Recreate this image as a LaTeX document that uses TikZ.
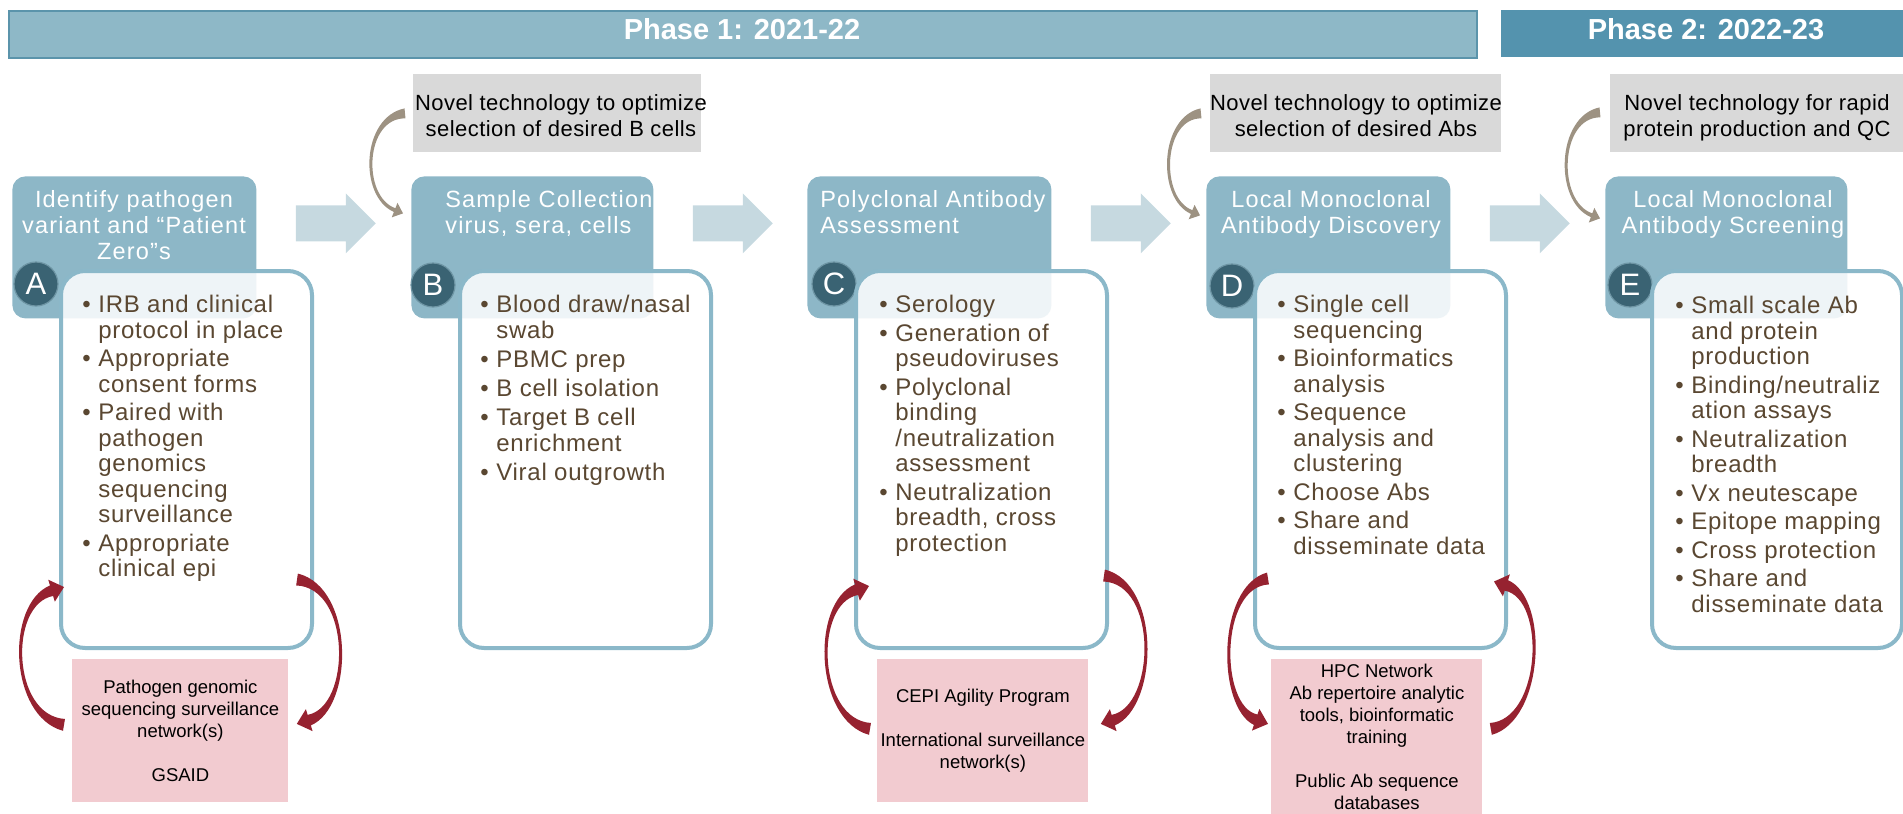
\documentclass[tikz,border=0pt]{standalone}
\usepackage{fontspec}
\setmainfont{Liberation Sans}
\newfontfamily\hdrfont[LetterSpace=5]{Liberation Sans}
\newfontfamily\bodyfont[LetterSpace=3]{Liberation Sans}
\newfontfamily\grayfont[LetterSpace=2]{Liberation Sans}
\usetikzlibrary{arrows.meta,calc}
\definecolor{hdrcol}{HTML}{8DB7C7}
\definecolor{bodyline}{HTML}{8BB8C9}
\definecolor{circcol}{HTML}{3A6373}
\definecolor{circline}{HTML}{6E95A4}
\definecolor{flowcol}{HTML}{C6D9E0}
\definecolor{grayboxcol}{HTML}{D9D9D9}
\definecolor{pinkcol}{HTML}{F2CBD0}
\definecolor{redarr}{HTML}{962230}
\definecolor{grayarr}{HTML}{9D9282}
\definecolor{bodytext}{HTML}{5A4731}
\definecolor{phaseone}{HTML}{8EB8C7}
\definecolor{phaseoneline}{HTML}{5B94AB}
\definecolor{phasetwo}{HTML}{5493AE}
\newcommand\bu{\makebox[8pt][l]{\textbullet}}
\newcommand\ind{\hspace*{8pt}}
\def\crhl{6pt}
\def\crhw{5.5pt}
% tapered curved arrow: #1 fill, #2 tail, #3 tail control offset, #4 head control offset (from tip), #5 tip,
% #6 tail half-width, #7 middle half-width, #8 head-end half-width
\newcommand\crarrow[8]{%
  \path #2 coordinate (cr-s);
  \path #5 coordinate (cr-t);
  \path ($(cr-s)+#3$) coordinate (cr-a);
  \path ($(cr-t)+#4$) coordinate (cr-b);
  \path ($(cr-t)!\crhl!(cr-b)$) coordinate (cr-e);
  \fill[#1] ($(cr-s)!#6!90:(cr-a)$) .. controls ($(cr-a)!#7!90:(cr-b)$) and ($(cr-b)!#7!-90:(cr-a)$) .. ($(cr-e)!#8!-90:(cr-b)$)
    -- ($(cr-e)!\crhw!-90:(cr-b)$) -- (cr-t) -- ($(cr-e)!\crhw!90:(cr-b)$) -- ($(cr-e)!#8!90:(cr-b)$)
    .. controls ($(cr-b)!#7!90:(cr-a)$) and ($(cr-a)!#7!-90:(cr-b)$) .. ($(cr-s)!#6!-90:(cr-a)$) -- cycle;
}
\tikzset{
  phasebar/.style={anchor=north west, inner sep=0, minimum height=23.5pt},
  phasetext/.style={text=white, font=\bfseries\fontsize{14.5}{16}\selectfont, inner sep=0},
  hdr/.style={fill=hdrcol, rounded corners=6.5pt, anchor=north west, inner sep=0, minimum width=122pt, minimum height=71pt},
  hdrtext/.style={text=white, font=\hdrfont\fontsize{11.75}{13}\selectfont, inner sep=0},
  bodybox/.style={draw=bodyline, line width=2pt, fill=white, fill opacity=0.86, rounded corners=12pt, anchor=north west, inner sep=0, minimum width=125.5pt, minimum height=188.5pt},
  bodytxt/.style={text=bodytext, font=\bodyfont\fontsize{12}{12.75}\selectfont, align=left, inner sep=0, anchor=north west},
  circ/.style={circle, fill=circcol, draw=circline, line width=0.6pt, minimum size=22pt, inner sep=0, text=white, font=\fontsize{15.5}{16}\selectfont},
  graybox/.style={fill=grayboxcol, anchor=north west, inner sep=0, minimum height=39pt},
  graytext/.style={font=\grayfont\fontsize{11}{13}\selectfont, align=center, inner sep=0, anchor=north},
  pinkbox/.style={fill=pinkcol, anchor=north west, inner sep=0, align=center, font=\fontsize{9.25}{11}\selectfont},
}
\begin{document}
\begin{tikzpicture}[x=0.5pt,y=-0.5pt]
\useasboundingbox (0,0) rectangle (1903,814);
% phase bars
\node[phasebar, fill=phaseone, draw=phaseoneline, line width=1pt, minimum width=734pt] (ph1) at (8,10) {};
\node[phasetext] (ph1t) at (742,29) {Phase 1: 2021-22};
\node[phasebar, fill=phasetwo, minimum width=201pt] (ph2) at (1501,10) {};
\node[phasetext] (ph2t) at (1706,29) {Phase 2: 2022-23};

% gray boxes
\node[graybox, minimum width=144pt] (gB) at (413,74) {};
\node[graybox, minimum width=145.5pt] (gD) at (1210,74) {};
\node[graybox, minimum width=146.5pt] (gE) at (1610,74) {};
\node[graytext] (gBt) at (561,94) {Novel technology to optimize\\selection of desired B cells};
\node[graytext] (gDt) at (1356,94) {Novel technology to optimize\\selection of desired Abs};
\node[graytext] (gEt) at (1757,94) {Novel technology for rapid\\protein production and QC};

% headers
\node[hdr] (hA) at (12,176) {};
\node[hdr, minimum width=121pt] (hB) at (411,176) {};
\node[hdr] (hC) at (807,176) {};
\node[hdr] (hD) at (1206,176) {};
\node[hdr, minimum width=121pt] (hE) at (1605,176) {};

% flow arrows
\foreach \h in {hA,hB,hC,hD}{
  \fill[flowcol] ($(\h.east)+(39,-42)$) -- ++(50,0) -- ++(0,-12) -- ++(30,30) -- ++(-30,30) -- ++(0,-12) -- ++(-50,0) -- cycle;
}

% gray curved arrows
\def\crhl{4.5pt}\def\crhw{3.9pt}
\crarrow{grayarr}{($(gB.west)+(-8,0)$)}{(-42,4)}{(-43,-17)}{($(hB.west)+(-8,-34)$)}{2.5pt}{0.9pt}{1pt}
\crarrow{grayarr}{($(gD.west)+(-9,0)$)}{(-40,4)}{(-42,-17)}{($(hD.west)+(-6,-32)$)}{2.5pt}{0.9pt}{1pt}
\crarrow{grayarr}{($(gE.west)+(-10,-1)$)}{(-42,4)}{(-45,-17)}{($(hE.west)+(-5,-29)$)}{2.5pt}{0.9pt}{1pt}

% header texts (clipped to header boxes)
\begin{scope}
\clip[rounded corners=6.5pt] (hA.north west) rectangle (hA.south east);
\node[hdrtext, align=center, anchor=north] (tA) at (134,190) {Identify pathogen\\variant and “Patient\\Zero”s};
\end{scope}
\begin{scope}
\clip[rounded corners=6.5pt] (hB.north west) rectangle (hB.south east);
\node[hdrtext, align=left, anchor=north west] (tB) at (445,190) {Sample Collection\\virus, sera, cells};
\end{scope}
\begin{scope}
\clip[rounded corners=6.5pt] (hC.north west) rectangle (hC.south east);
\node[hdrtext, align=left, anchor=north west] (tC) at (820,190) {Polyclonal Antibody\\Assessment};
\end{scope}
\node[hdrtext, align=center, anchor=north] (tD) at (1331,190) {Local Monoclonal\\Antibody Discovery};
\node[hdrtext, align=center, anchor=north] (tE) at (1733,190) {Local Monoclonal\\Antibody Screening};

% circles
\node[circ] (cA) at (36,284) {A};
\node[circ] (cB) at (433,285) {B};
\node[circ] (cC) at (834,284) {C};
\node[circ] (cD) at (1232,286) {D};
\node[circ] (cE) at (1630,285) {E};

% body boxes
\node[bodybox] (bA) at (59,269) {};
\node[bodybox] (bB) at (458,269) {};
\node[bodybox] (bC) at (854,269) {};
\node[bodybox] (bD) at (1253,269) {};
\node[bodybox, minimum width=125pt] (bE) at (1650,269) {};

% body texts
\node[bodytxt] (xA) at ($(bA.north west)+(23,26)$) {\bu IRB and clinical\\\ind protocol in place\\[1.5pt]\bu Appropriate\\\ind consent forms\\[1.5pt]\bu Paired with\\\ind pathogen\\\ind genomics\\\ind sequencing\\\ind surveillance\\[1.5pt]\bu Appropriate\\\ind clinical epi};
\node[bodytxt] (xB) at ($(bB.north west)+(22,26)$) {\bu Blood draw/nasal\\\ind swab\\[1.8pt]\bu PBMC prep\\[1.8pt]\bu B cell isolation\\[1.8pt]\bu Target B cell\\\ind enrichment\\[1.8pt]\bu Viral outgrowth};
\node[bodytxt] (xC) at ($(bC.north west)+(25,26)$) {\bu Serology\\[1.5pt]\bu Generation of\\\ind pseudoviruses\\[1.5pt]\bu Polyclonal\\\ind binding\\\ind /neutralization\\\ind assessment\\[1.5pt]\bu Neutralization\\\ind breadth, cross\\\ind protection};
\node[bodytxt] (xD) at ($(bD.north west)+(24,26)$) {\bu Single cell\\\ind sequencing\\[1.5pt]\bu Bioinformatics\\\ind analysis\\[1.5pt]\bu Sequence\\\ind analysis and\\\ind clustering\\[1.5pt]\bu Choose Abs\\[1.5pt]\bu Share and\\\ind disseminate data};
\node[bodytxt] (xE) at ($(bE.north west)+(25,27)$) {\bu Small scale Ab\\\ind and protein\\\ind production\\[1.5pt]\bu Binding/neutraliz\\\ind ation assays\\[1.5pt]\bu Neutralization\\\ind breadth\\[1.5pt]\bu Vx neutescape\\[1.5pt]\bu Epitope mapping\\[1.5pt]\bu Cross protection\\[1.5pt]\bu Share and\\\ind disseminate data};

% pink boxes
\node[pinkbox, minimum width=108pt, minimum height=71.5pt] (pA) at (72,659) {Pathogen genomic\\sequencing surveillance\\network(s)\\ \\GSAID};
\node[pinkbox, minimum width=105.5pt, minimum height=71.5pt] (pC) at (877,659) {CEPI Agility Program\\ \\International surveillance\\network(s)};
\node[pinkbox, minimum width=105.5pt, minimum height=77.5pt] (pD) at (1271,659) {HPC Network\\Ab repertoire analytic\\tools, bioinformatic\\training\\ \\Public Ab sequence\\databases};

% red curved arrows
\def\crhl{6.5pt}\def\crhw{5.75pt}
\crarrow{redarr}{($(pA.west)+(-8,-6)$)}{(-54,-9)}{(-57,17)}{($(bA.south west)+(5,-63)$)}{3pt}{0.8pt}{2.75pt}
\crarrow{redarr}{($(bA.east)+(-17,120)$)}{(56,8)}{(56,-17)}{($(pA.east)+(8,-7)$)}{3pt}{0.8pt}{2.75pt}
\crarrow{redarr}{($(pC.west)+(-7,-2)$)}{(-54,-9)}{(-57,17)}{($(bC.south west)+(15,-64)$)}{3pt}{0.8pt}{2.75pt}
\crarrow{redarr}{($(bC.east)+(-5,116)$)}{(56,8)}{(56,-17)}{($(pC.east)+(12,-7)$)}{3pt}{0.8pt}{2.75pt}
\crarrow{redarr}{($(bD.west)+(15,119)$)}{(-50,8)}{(-50,-17)}{($(pD.west)+(-3,-13)$)}{3pt}{0.8pt}{2.75pt}
\crarrow{redarr}{($(pD.east)+(8,-8)$)}{(52,-9)}{(54,17)}{($(bD.east)+(-14,122)$)}{3pt}{0.8pt}{2.75pt}
\end{tikzpicture}
\end{document}
